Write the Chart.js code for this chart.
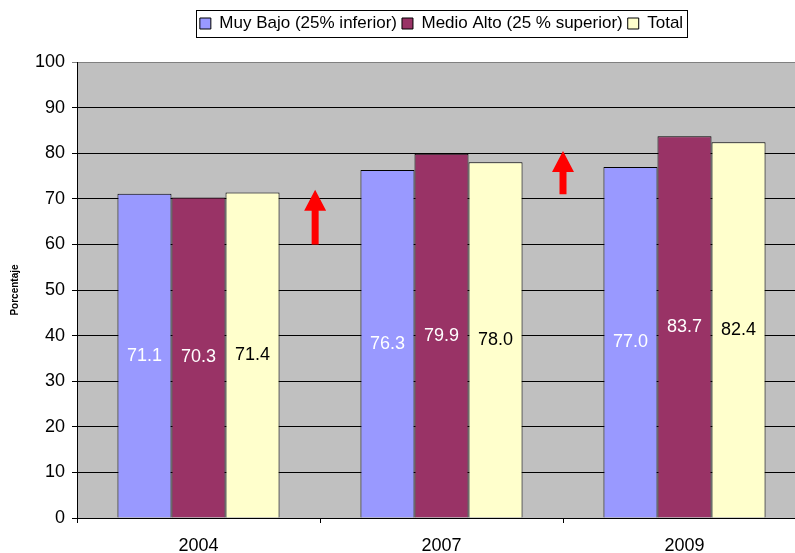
<!DOCTYPE html>
<html>
<head>
<meta charset="utf-8">
<script src="https://cdn.jsdelivr.net/npm/chart.js@4/dist/chart.umd.min.js"></script>
<style>
    html, body { margin: 0; padding: 0; overflow: hidden; background: #fff; }
</style>
</head>
<body>
<canvas id="porcentajeGrupos" width="812" height="553"></canvas>
<script>
// Datos del gráfico
const anios = ['2004', '2007', '2009'];
const muyBajo = [71.1, 76.3, 77.0];
const medioAlto = [70.3, 79.9, 83.7];
const total = [71.4, 78.0, 82.4];
const etiquetasSeries = ['Muy Bajo (25% inferior)', 'Medio Alto (25 % superior)', 'Total'];
const ticksY = [0, 10, 20, 30, 40, 50, 60, 70, 80, 90, 100];

// Flechas rojas entre grupos (posición en categorías y valores)
const flechasX = [0.48, 1.5];
const flechasDesde = [60, 71];
const flechasHasta = [72, 80.5];

const fuente = 'Arial, "Liberation Sans", sans-serif';
const coloresSeries = ['#9999FF', '#993366', '#FFFFCC'];
const coloresTexto = ['#FFFFFF', '#FFFFFF', '#000000'];

// Fondo gris del área de trazado
const fondoArea = {
    id: 'fondoArea',
    beforeDraw(chart) {
        const { ctx, chartArea } = chart;
        ctx.save();
        ctx.fillStyle = '#C0C0C0';
        ctx.fillRect(chartArea.left, chartArea.top, chartArea.right - chartArea.left, chartArea.bottom - chartArea.top);
        ctx.restore();
    }
};

// Leyenda centrada sobre el área de trazado, arriba, con marco
const leyendaCentrada = {
    id: 'leyendaCentrada',
    afterLayout(chart) {
        const leyenda = chart.legend;
        if (!leyenda) return;
        const alto = leyenda.bottom - leyenda.top;
        leyenda.left = chart.chartArea.left;
        leyenda.right = chart.chartArea.right;
        leyenda.top = 10;
        leyenda.bottom = 10 + alto;
    },
    afterDraw(chart) {
        const cajas = chart.legend && chart.legend.legendHitBoxes;
        if (!cajas || !cajas.length) return;
        const izq = Math.min(...cajas.map(c => c.left)) - 4;
        const der = Math.max(...cajas.map(c => c.left + c.width)) + 4;
        const arriba = Math.min(...cajas.map(c => c.top)) - 5;
        const abajo = Math.max(...cajas.map(c => c.top + c.height)) + 5;
        const ctx = chart.ctx;
        ctx.save();
        ctx.strokeStyle = '#000';
        ctx.lineWidth = 1;
        ctx.strokeRect(Math.round(izq) + 0.5, Math.round(arriba) + 0.5, Math.round(der - izq), Math.round(abajo - arriba));
        ctx.restore();
    }
};

// Valores dentro de las barras
const etiquetasBarras = {
    id: 'etiquetasBarras',
    afterDatasetsDraw(chart) {
        const ctx = chart.ctx;
        ctx.save();
        ctx.font = '18px ' + fuente;
        ctx.textAlign = 'center';
        ctx.textBaseline = 'middle';
        chart.data.datasets.forEach((ds, i) => {
            chart.getDatasetMeta(i).data.forEach((barra, j) => {
                ctx.fillStyle = coloresTexto[i];
                ctx.fillText(ds.data[j].toFixed(1), barra.x, (barra.y + barra.base) / 2);
            });
        });
        ctx.restore();
    }
};

// Flechas de aumento
const flechas = {
    id: 'flechas',
    afterDatasetsDraw(chart) {
        const { ctx, scales } = chart;
        const anchoCuerpo = 7, anchoCabeza = 22, altoCabeza = 21;
        ctx.save();
        ctx.fillStyle = '#FF0000';
        flechasX.forEach((fx, i) => {
            const x = scales.x.getPixelForValue(fx);
            const yBase = scales.y.getPixelForValue(flechasDesde[i]);
            const yPunta = scales.y.getPixelForValue(flechasHasta[i]);
            ctx.beginPath();
            ctx.moveTo(x - anchoCuerpo / 2, yBase);
            ctx.lineTo(x - anchoCuerpo / 2, yPunta + altoCabeza);
            ctx.lineTo(x - anchoCabeza / 2, yPunta + altoCabeza);
            ctx.lineTo(x, yPunta);
            ctx.lineTo(x + anchoCabeza / 2, yPunta + altoCabeza);
            ctx.lineTo(x + anchoCuerpo / 2, yPunta + altoCabeza);
            ctx.lineTo(x + anchoCuerpo / 2, yBase);
            ctx.closePath();
            ctx.fill();
        });
        ctx.restore();
    }
};

const series = [muyBajo, medioAlto, total];

new Chart(document.getElementById('porcentajeGrupos'), {
    type: 'bar',
    data: {
        labels: anios,
        datasets: series.map((valores, i) => ({
            label: etiquetasSeries[i],
            data: valores,
            backgroundColor: coloresSeries[i],
            borderColor: '#000',
            borderWidth: 1,
            barPercentage: 1,
            categoryPercentage: 0.667
        }))
    },
    options: {
        responsive: false,
        animation: false,
        layout: { padding: { top: 10, left: 5, right: 6, bottom: 0 } },
        plugins: {
            tooltip: { enabled: false },
            legend: {
                position: 'top',
                labels: {
                    boxWidth: 11,
                    boxHeight: 11,
                    padding: 5,
                    color: '#000',
                    font: { family: fuente, size: 17 }
                }
            }
        },
        scales: {
            x: {
                grid: { offset: true, drawOnChartArea: false, color: '#000', tickLength: 5 },
                border: { color: '#000' },
                ticks: { color: '#000', font: { family: fuente, size: 18 }, padding: 12 },
                afterFit(scale) { scale.height = 35; }
            },
            y: {
                min: 0,
                max: 100,
                afterBuildTicks(scale) { scale.ticks = ticksY.map(v => ({ value: v })); },
                grid: {
                    color: ctx => (ctx.tick && ctx.tick.value === 100 ? '#808080' : '#000'),
                    tickLength: 5
                },
                border: { color: '#000' },
                ticks: { color: '#000', font: { family: fuente, size: 18 }, padding: 7 },
                title: {
                    display: true,
                    text: 'Porcentaje',
                    color: '#000',
                    font: { family: fuente, size: 10, weight: 'bold' },
                    padding: { top: 4, bottom: 4 }
                },
                afterFit(scale) {
                    scale.width = 72;
                    scale.paddingTop = 62;
                }
            }
        }
    },
    plugins: [fondoArea, leyendaCentrada, etiquetasBarras, flechas]
});
</script>
</body>
</html>
